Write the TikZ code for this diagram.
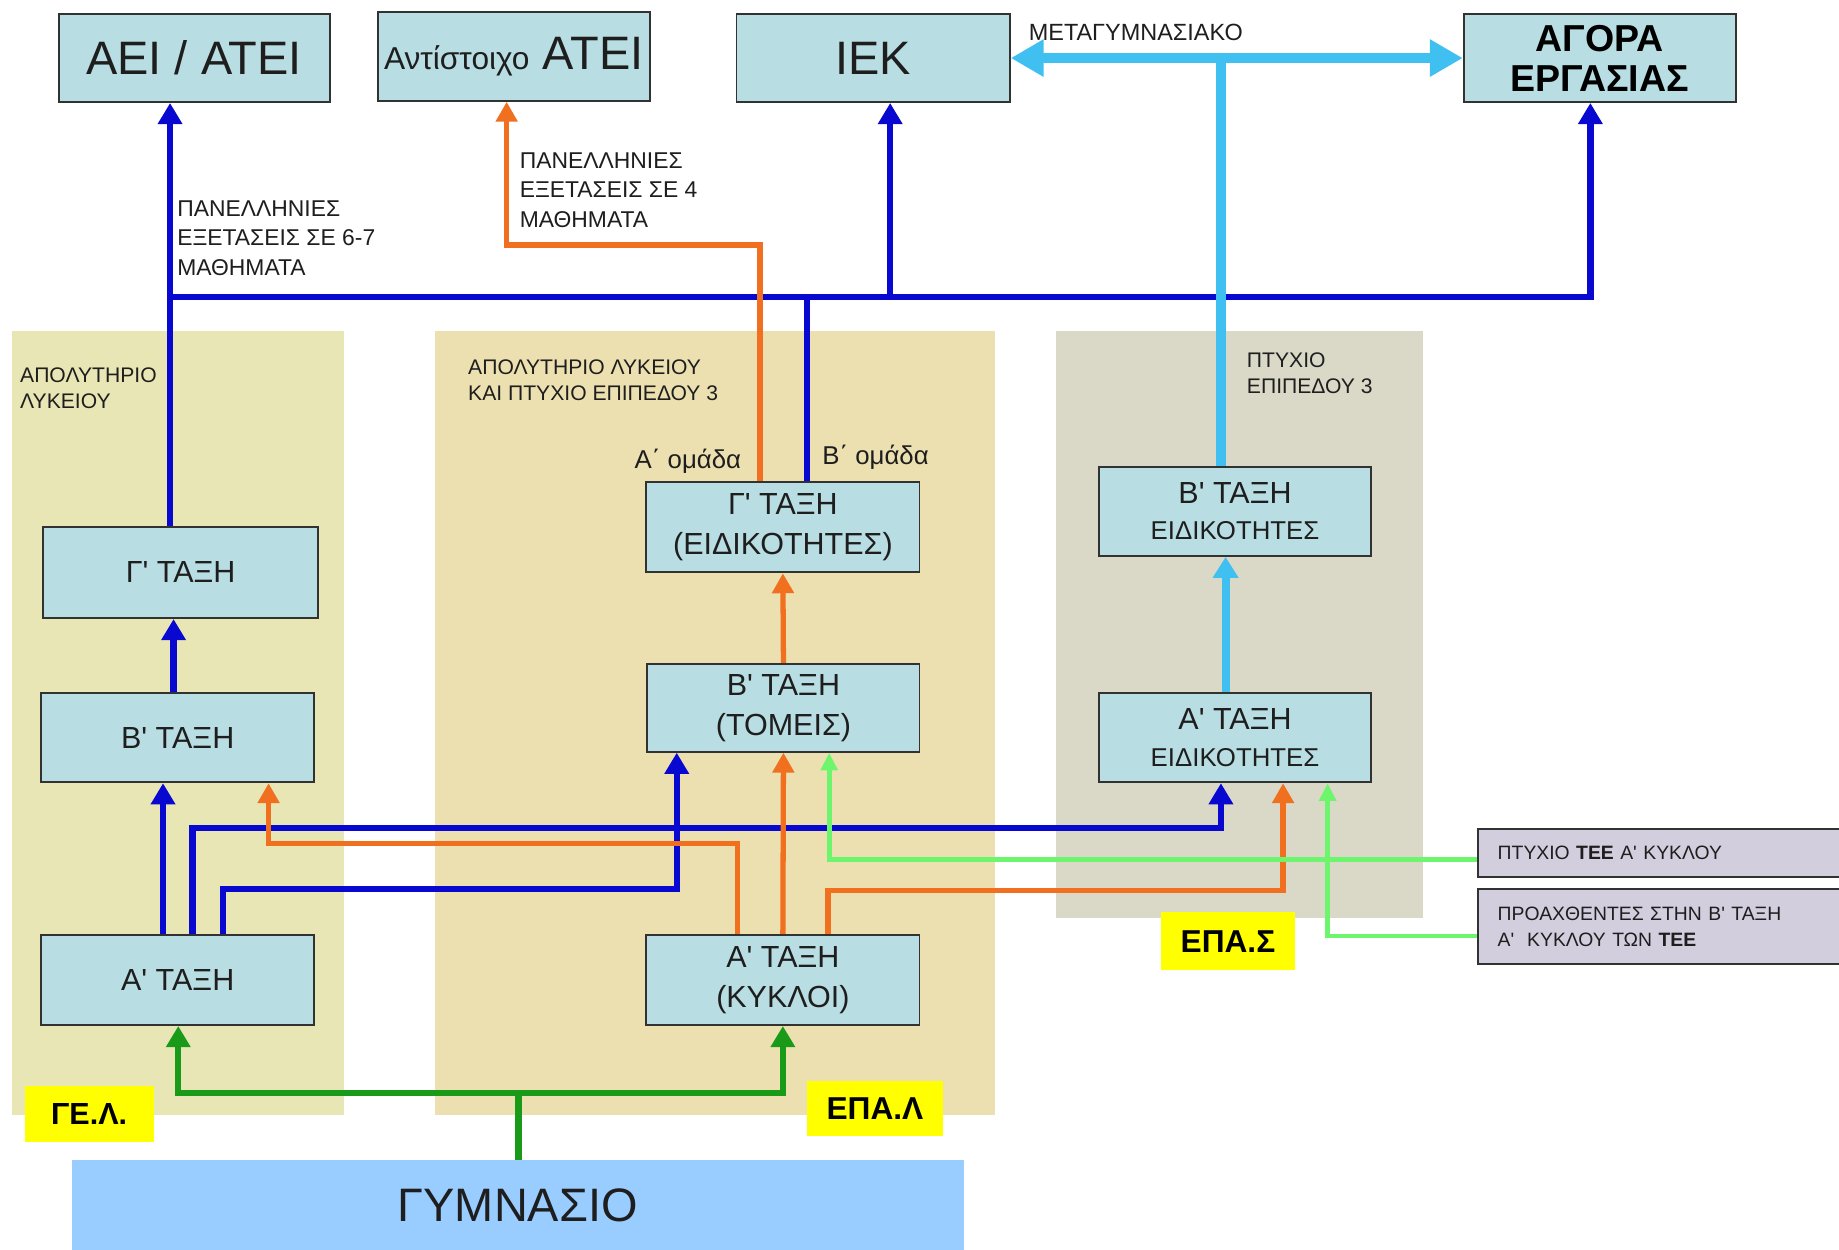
\documentclass[tikz,border=0pt]{standalone}
\usepackage{fontspec}
\setmainfont{Liberation Sans}
\newfontfamily\lib{Liberation Sans}
\usetikzlibrary{arrows.meta}
\definecolor{boxfill}{RGB}{184,221,226}
\definecolor{boxline}{RGB}{50,50,50}
\definecolor{gelbg}{RGB}{233,230,181}
\definecolor{epalbg}{RGB}{236,224,176}
\definecolor{epasbg}{RGB}{218,216,198}
\definecolor{sidebox}{RGB}{210,206,221}
\definecolor{gymbg}{RGB}{153,204,255}
\definecolor{ylw}{RGB}{255,255,0}
\definecolor{cblue}{RGB}{8,8,208}
\definecolor{corange}{RGB}{240,112,32}
\definecolor{ccyan}{RGB}{64,192,240}
\definecolor{clgreen}{RGB}{110,245,110}
\definecolor{cgreen}{RGB}{25,155,25}
\definecolor{txt}{RGB}{30,30,30}
\newcommand\fz[2]{\lib\fontsize{#1}{#2}\selectfont}
\begin{document}
\begin{tikzpicture}[x=1pt,y=-1pt,
  sz/.style 2 args={minimum width=#1pt, minimum height=#2pt},
  box/.style={draw=boxline, fill=boxfill, line width=1.6pt, inner sep=0pt, align=center, text=txt, font=\fz{26}{34}},
  side/.style={draw=boxline, fill=sidebox, line width=1.6pt, inner xsep=17pt, inner ysep=0pt, align=left, text width=281pt, text=txt, font=\fz{16.5}{22.5}},
  tag/.style={fill=ylw, inner sep=0pt, text=black, font=\fz{27}{27}\bfseries},
  lbl/.style={inner sep=0pt, anchor=west, align=left, text=txt},
  bluL/.style={draw=cblue, line width=5.5pt},
  blu/.style={bluL, -{Triangle[width=20pt,length=18pt]}},
  orgL/.style={draw=corange, line width=4.5pt},
  org/.style={orgL, -{Triangle[width=18pt,length=17pt]}},
  lgr/.style={draw=clgreen, line width=4pt, -{Triangle[width=14pt,length=15pt]}},
  grnL/.style={draw=cgreen, line width=5.5pt},
  grn/.style={grnL, -{Triangle[width=20pt,length=18pt]}},
  cyL/.style={draw=ccyan, line width=8.5pt},
  cya/.style={draw=ccyan, line width=7pt, -{Triangle[width=21pt,length=18pt]}},
  cyb/.style={draw=ccyan, line width=9pt, {Triangle[width=30pt,length=28pt]}-{Triangle[width=30pt,length=28pt]}}
]
\clip (0,0) rectangle (1568,1065);
\fill[white] (0,0) rectangle (1568,1065);

% background panels
\fill[gelbg] (10,282) rectangle (293,951);
\fill[epalbg] (371,282) rectangle (848,951);
\fill[epasbg] (900,282) rectangle (1213,783);

% top destinations
\node[box, sz={231}{75}, font=\fz{40}{40}] (aei) at (165.5,49.5) {ΑΕΙ / ΑΤΕΙ};
\node[box, sz={232}{76}, font=\fz{40}{40}] (ant) at (438,48) {{\fz{27}{27}Αντίστοιχο} ΑΤΕΙ};
\node[box, sz={233}{75}, font=\fz{40}{40}] (iek) at (744.5,49.5) {ΙΕΚ};
\node[box, sz={232}{75}, font=\fz{32}{34}\bfseries, text=black] (agora) at (1364,49.5) {ΑΓΟΡΑ\\ΕΡΓΑΣΙΑΣ};

% ΓΕΛ
\node[box, sz={234}{78}] (gelC) at (154,488) {Γ' ΤΑΞΗ};
\node[box, sz={233}{76}] (gelB) at (151.5,629) {Β' ΤΑΞΗ};
\node[box, sz={233}{77}] (gelA) at (151.5,835.5) {Α' ΤΑΞΗ};

% ΕΠΑΛ
\node[box, sz={233}{77}] (epalC) at (667.5,449.5) {Γ' ΤΑΞΗ\\(ΕΙΔΙΚΟΤΗΤΕΣ)};
\node[box, sz={232}{75}] (epalB) at (668,603.5) {Β' ΤΑΞΗ\\(ΤΟΜΕΙΣ)};
\node[box, sz={233}{77}] (epalA) at (667.5,835.5) {Α' ΤΑΞΗ\\(ΚΥΚΛΟΙ)};

% ΕΠΑΣ
\node[box, sz={232}{76}, font=\fz{26}{31}] (epasB) at (1053,436) {Β' ΤΑΞΗ\\{\fz{22}{31}ΕΙΔΙΚΟΤΗΤΕΣ}};
\node[box, sz={232}{76}, font=\fz{26}{31}] (epasA) at (1053,629) {Α' ΤΑΞΗ\\{\fz{22}{31}ΕΙΔΙΚΟΤΗΤΕΣ}};

% side boxes
\node[side, minimum height=41pt] (tee1) at (1417.5,727) {ΠΤΥΧΙΟ \textbf{ΤΕΕ} Α' ΚΥΚΛΟΥ};
\node[side, minimum height=64pt] (tee2) at (1417.5,790) {ΠΡΟΑΧΘΕΝΤΕΣ ΣΤΗΝ Β' ΤΑΞΗ\\Α'\ \ ΚΥΚΛΟΥ ΤΩΝ \textbf{ΤΕΕ}};

% Gymnasio
\node[fill=gymbg, inner sep=0pt, sz={761}{78}, font=\fz{40}{40}, text=txt] (gym) at (441.5,1028) {ΓΥΜΝΑΣΙΟ};

% yellow tags
\node[tag, sz={110}{48}, font=\fz{26}{26}\bfseries] (gelT) at (76,950) {ΓΕ.Λ.};
\node[tag, sz={116}{47}] (epalT) at (746,945.5) {ΕΠΑ.Λ};
\node[tag, sz={114}{49}] (epasT) at (1047,802.5) {ΕΠΑ.Σ};

% labels
\node[lbl, font=\fz{19.5}{25}] (l1) at (151,203) {ΠΑΝΕΛΛΗΝΙΕΣ\\ΕΞΕΤΑΣΕΙΣ ΣΕ 6-7\\ΜΑΘΗΜΑΤΑ};
\node[lbl, font=\fz{19.5}{25}] (l2) at (443,162) {ΠΑΝΕΛΛΗΝΙΕΣ\\ΕΞΕΤΑΣΕΙΣ ΣΕ 4\\ΜΑΘΗΜΑΤΑ};
\node[lbl, font=\fz{18}{22}] (l3) at (17,331) {ΑΠΟΛΥΤΗΡΙΟ\\ΛΥΚΕΙΟΥ};
\node[lbl, font=\fz{18}{22.5}] (l4) at (399,324) {ΑΠΟΛΥΤΗΡΙΟ ΛΥΚΕΙΟΥ\\ΚΑΙ ΠΤΥΧΙΟ ΕΠΙΠΕΔΟΥ 3};
\node[lbl, font=\fz{18}{22.5}] (l5) at (1063,318) {ΠΤΥΧΙΟ\\ΕΠΙΠΕΔΟΥ 3};
\node[lbl, font=\fz{20}{20}] (l6) at (877,28) {ΜΕΤΑΓΥΜΝΑΣΙΑΚΟ};
\node[lbl, font=\fz{22}{22}] (l7) at (541,393) {Α΄ ομάδα};
\node[lbl, font=\fz{22}{22}] (l8) at (701,390) {Β΄ ομάδα};

% junction coordinates
\coordinate (bjL) at (145,253);
\coordinate (bjM) at (688,253);
\coordinate (bjI) at (759,253);
\coordinate (cj) at (1041,49.5);
\coordinate (gj) at (442,932);

% blue connectors
\draw[blu] (145,0 |- gelC.north) -- (aei.south -| 145,0);
\draw[bluL] (688,0 |- epalC.north) -- (bjM) -- (bjL);
\draw[blu] (bjM) -| (1356,0 |- agora.south);
\draw[blu] (bjI) -- (759,0 |- iek.south);
\draw[blu] (148,0 |- gelB.north) -- (148,0 |- gelC.south);
\draw[blu] (139,0 |- gelA.north) -- (139,0 |- gelB.south);
\draw[blu] (164,0 |- gelA.north) -- (164,706) -| (1041,0 |- epasA.south);
\draw[blu] (190,0 |- gelA.north) -- (190,758) -| (577,0 |- epalB.south);

% orange connectors
\draw[org] (648,0 |- epalC.north) -- (648,209) -| (432,0 |- ant.south);
\draw[org] (epalB.north) -- (epalC.south);
\draw[org] (629,0 |- epalA.north) -- (629,719) -| (229,0 |- gelB.south);
\draw[org] (epalA.north) -- (epalB.south);
\draw[org] (706,0 |- epalA.north) -- (706,759) -| (1094,0 |- epasA.south);

% light green connectors
\draw[lgr] ([yshift=-6pt]tee1.west) -| (707,0 |- epalB.south);
\draw[lgr] ([yshift=-8pt]tee2.west) -| (1132,0 |- epasA.south);

% cyan connectors
\draw[cyL] (1041,0 |- epasB.north) -- (cj);
\draw[cyb] (iek.east) -- (agora.west);
\draw[cya] (1045,0 |- epasA.north) -- (1045,0 |- epasB.south);

% green connectors
\draw[grnL] (442,0 |- gym.north) -- (gj);
\draw[grn] (gj) -| (152,0 |- gelA.south);
\draw[grn] (gj) -| (epalA.south);
\end{tikzpicture}
\end{document}
